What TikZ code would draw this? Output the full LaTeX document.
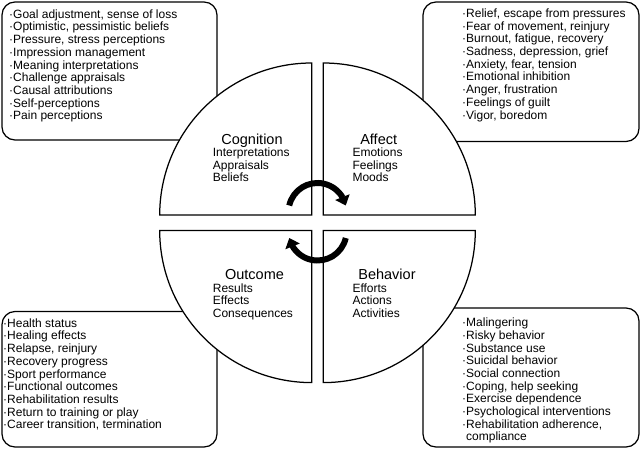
\documentclass[tikz,border=0pt]{standalone}
\usepackage{fontspec}
\setmainfont{Liberation Sans}
\usetikzlibrary{arrows.meta, bending}

\begin{document}
\begin{tikzpicture}[
  x=1pt, y=1pt,
  listbox/.style={draw, line width=1.25pt, rounded corners=13pt},
  quadrant/.style={draw, fill=white, line width=1.25pt},
  listtext/.style={align=left, anchor=north west, inner sep=0pt,
                   font=\fontsize{12}{12.7}\selectfont},
  headline/.style={anchor=base, inner sep=0pt, font=\fontsize{14.5}{17}\selectfont},
  subitems/.style={align=left, anchor=north west, inner sep=0pt,
                   font=\fontsize{12}{12.5}\selectfont},
  cyclearrow/.style={-{Triangle[length=9pt, width=15pt, flex]}, line width=6pt}
]
  \useasboundingbox (0,0) rectangle (640,449);

  % list boxes behind the circle
  \draw[listbox] (2,309) rectangle (217,447);
  \draw[listbox] (423,307.5) rectangle (639,447);
  \draw[listbox] (2,2) rectangle (217,137.5);
  \draw[listbox] (423,2) rectangle (639,141);

  \node[listtext] (coglist) at (9,439.6) {·Goal adjustment, sense of loss\\
    ·Optimistic, pessimistic beliefs\\ ·Pressure, stress perceptions\\
    ·Impression management\\ ·Meaning interpretations\\ ·Challenge appraisals\\
    ·Causal attributions\\ ·Self-perceptions\\ ·Pain perceptions};
  \node[listtext] (afflist) at (462,440.4) {·Relief, escape from pressures\\
    ·Fear of movement, reinjury\\ ·Burnout, fatigue, recovery\\
    ·Sadness, depression, grief\\ ·Anxiety, fear, tension\\ ·Emotional inhibition\\
    ·Anger, frustration\\ ·Feelings of guilt\\ ·Vigor, boredom};
  \node[listtext] (outlist) at (3,130.6) {·Health status\\ ·Healing effects\\
    ·Relapse, reinjury\\ ·Recovery progress\\ ·Sport performance\\
    ·Functional outcomes\\ ·Rehabilitation results\\ ·Return to training or play\\
    ·Career transition, termination};
  \node[listtext] (behlist) at (462,131.2) {·Malingering\\ ·Risky behavior\\
    ·Substance use\\ ·Suicidal behavior\\ ·Social connection\\
    ·Coping, help seeking\\ ·Exercise dependence\\ ·Psychological interventions\\
    ·Rehabilitation adherence,\\ \hphantom{·}compliance};

  % the four quarters
  \coordinate (cogc) at (311.7,234);
  \coordinate (affc) at (323.3,234);
  \coordinate (outc) at (311.7,218.4);
  \coordinate (behc) at (323.3,218.4);
  \draw[quadrant] (cogc) -- ++(0,152) arc[start angle=90, end angle=180, radius=152] -- cycle;
  \draw[quadrant] (affc) -- ++(152,0) arc[start angle=0, end angle=90, radius=152] -- cycle;
  \draw[quadrant] (outc) -- ++(-152,0) arc[start angle=180, end angle=270, radius=152] -- cycle;
  \draw[quadrant] (behc) -- ++(0,-152) arc[start angle=270, end angle=360, radius=152] -- cycle;

  \node[headline] (cognition) at (252,304.7) {Cognition};
  \node[subitems] (cogitems) at (212.7,301.2) {Interpretations\\ Appraisals\\ Beliefs};
  \node[headline] (affect) at (378.7,304.7) {Affect};
  \node[subitems] (affitems) at (352.3,301.2) {Emotions\\ Feelings\\ Moods};
  \node[headline] (outcome) at (254.5,169) {Outcome};
  \node[subitems] (outitems) at (212.7,165.6) {Results\\ Effects\\ Consequences};
  \node[headline] (behavior) at (387,169) {Behavior};
  \node[subitems] (behitems) at (352.3,165.6) {Efforts\\ Actions\\ Activities};

  % cycle arrows
  \coordinate (upper) at (317.5,237);
  \coordinate (lower) at (317.5,217.5);
  \draw[cyclearrow] (upper) ++(167:29) arc[start angle=167, end angle=13, radius=29];
  \draw[cyclearrow] (lower) ++(-13:29) arc[start angle=-13, end angle=-167, radius=29];
\end{tikzpicture}
\end{document}
